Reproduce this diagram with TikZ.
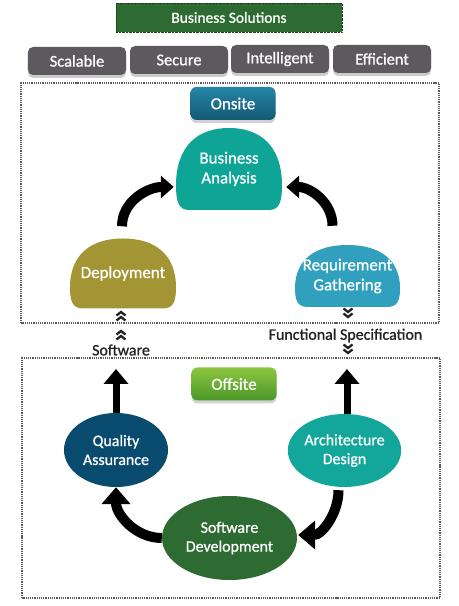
\documentclass[tikz,border=0pt]{standalone}
\usepackage{fontspec}
\setmainfont{Carlito}
\newfontfamily\heavyfont[FakeBold=0.9]{Carlito}
\usetikzlibrary{arrows.meta,shapes.geometric,shadows,backgrounds,calc}

\definecolor{BizGreen}{HTML}{2E6B33}
\definecolor{PillGray}{HTML}{5D595E}
\definecolor{FrameGray}{HTML}{5A5A5A}
\definecolor{OnTop}{HTML}{2586A6}
\definecolor{OnBot}{HTML}{135873}
\definecolor{OffTop}{HTML}{8DC63F}
\definecolor{OffBot}{HTML}{4A9728}
\definecolor{BACol}{HTML}{0EA597}
\definecolor{DepCol}{HTML}{A39533}
\definecolor{RGCol}{HTML}{31A0BF}
\definecolor{QACol}{HTML}{084B6E}
\definecolor{ADCol}{HTML}{12A79A}
\definecolor{SDCol}{HTML}{2E6B32}
\definecolor{NoteGray}{HTML}{222222}

\newcommand\blobfill[4]{%
  \fill[#4,shift={(#1.center)},x=#2bp,y=#3bp]
    (-0.75,-1) .. controls (-0.95,-1) and (-1,-0.8) .. (-1,-0.4)
    .. controls (-1,0.55) and (-0.6,1) .. (0,1)
    .. controls (0.6,1) and (1,0.55) .. (1,-0.4)
    .. controls (1,-0.8) and (0.95,-1) .. (0.75,-1) -- cycle;}

\tikzset{
  pill/.style={fill=PillGray,rounded corners=5bp,minimum width=98bp,minimum height=28bp,
    text=white,font=\heavyfont\fontsize{16.5}{18}\selectfont,
    drop shadow={shadow xshift=0bp,shadow yshift=-3bp,opacity=0.4}},
  frame/.style={draw=FrameGray,densely dotted,line width=1.2bp},
  tag/.style={rounded corners=6bp,minimum width=85bp,minimum height=33bp,text=white,
    font=\heavyfont\fontsize{17}{19}\selectfont,
    drop shadow={shadow xshift=0bp,shadow yshift=-3bp,opacity=0.35}},
  blob/.style={inner sep=0pt,align=center,text=white,font=\heavyfont\fontsize{17}{20}\selectfont},
  oval/.style={ellipse,inner sep=0pt,align=center,text=white,font=\heavyfont\fontsize{16}{19}\selectfont},
  note/.style={text=NoteGray,inner sep=0pt,font=\heavyfont\fontsize{16}{18}\selectfont},
  bigarrow/.style={line width=10bp,-{Triangle[width=22bp,length=13bp]}},
  uparrow/.style={line width=7bp,-{Triangle[width=24bp,length=15bp]}},
  chevup/.pic={\draw[line width=2.3bp,NoteGray]
    (-4.5,-4.5) -- (0,-1) -- (4.5,-4.5) (-4.5,0.5) -- (0,4) -- (4.5,0.5);},
  chevdown/.pic={\draw[line width=2.3bp,NoteGray]
    (-4.5,4.5) -- (0,1) -- (4.5,4.5) (-4.5,-0.5) -- (0,-4) -- (4.5,-0.5);}
}

\begin{document}
\begin{tikzpicture}[x=1bp,y=1bp]
  \useasboundingbox (0,0) rectangle (459,606);

  % header
  \node[fill=BizGreen,draw=BizGreen!60!black,densely dotted,minimum width=226bp,minimum height=29bp,
    text=white,font=\heavyfont\fontsize{15.5}{17}\selectfont] (biz) at (229,588.5) {Business Solutions};
  \node[pill] (scal)  at (77,545)  {Scalable};
  \node[pill] (sec)   at (179,546) {Secure};
  \node[pill] (intel) at (280,547) {Intelligent};
  \node[pill] (eff)   at (382,547) {Efficient};

  % frames
  \draw[frame] (21,283) rectangle (439,523);
  \draw[frame] (22,8) rectangle (440,248);

  % onsite
  \node[tag,top color=OnTop,bottom color=OnBot] (onsite) at (233,502.5) {Onsite};
  \node[blob,minimum width=106bp,minimum height=82bp] (ba)  at (229,437)   {Business\\Analysis};
  \node[blob,minimum width=106bp,minimum height=70bp] (dep) at (123,332.5) {Deployment};
  \node[blob,minimum width=105bp,minimum height=62bp] (rg)  at (347.5,330) {Requirement\\Gathering};
  \begin{scope}[on background layer]
    \fill[white] (0,0) rectangle (459,606);
    \blobfill{ba}{53}{41}{BACol}
    \blobfill{dep}{53}{35}{DepCol}
    \blobfill{rg}{52.5}{31}{RGCol}
  \end{scope}
  \draw[bigarrow] ($(dep.north)+(-1,12)$) to[out=90,in=180] ($(ba.west)+(-2,-18)$);
  \draw[bigarrow] ($(rg.north)+(-15,19)$) to[out=90,in=0] ($(ba.east)+(4,-18)$);

  % hand over
  \node[note] (sw) at (121,256)   {Software};
  \node[note] (fs) at (345.5,270.5) {Functional Specification};
  \pic at (121,290) {chevup};
  \pic at (121,271) {chevup};
  \pic at (348,293) {chevdown};
  \pic at (348,257) {chevdown};

  % offsite
  \node[tag,top color=OffTop,bottom color=OffBot] (offsite) at (234,222) {Offsite};
  \node[oval,fill=QACol,minimum width=104bp,minimum height=74bp] (qa) at (116,156)   {Quality\\Assurance};
  \node[oval,fill=ADCol,minimum width=105bp,minimum height=73bp] (ad) at (344.5,155.5) {Architecture\\Design};
  \node[oval,fill=SDCol,minimum width=135bp,minimum height=84bp] (sd) at (229.5,68)  {Software\\Development};

  \coordinate (qaup) at (116,237);
  \coordinate (adup) at (347,237);
  \draw[uparrow] (qa.north) -- (qaup);
  \draw[uparrow] (ad.north -| adup) -- (adup);
  \draw[bigarrow,-{Triangle[width=28bp,length=17bp]}] (sd.west) to[out=180,in=-90] (qa.south);
  \draw[bigarrow,-{Triangle[width=28bp,length=17bp]}] ($(ad.south)+(-6,-3)$) to[out=-90,in=0] ($(sd.east)+(1,3)$);
\end{tikzpicture}
\end{document}
